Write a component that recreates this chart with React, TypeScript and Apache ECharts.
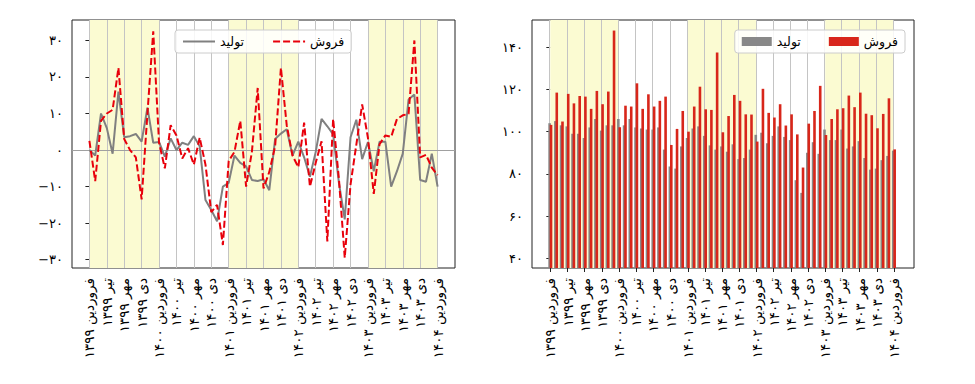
import React, { useEffect, useRef } from 'react';
import * as echarts from 'echarts';

// Tick labels (one every 3 months, Farvardin 1399 .. Farvardin 1404)
const tickLabels = [
  'فروردین ۱۳۹۹', 'تیر ۱۳۹۹', 'مهر ۱۳۹۹', 'دی ۱۳۹۹',
  'فروردین ۱۴۰۰', 'تیر ۱۴۰۰', 'مهر ۱۴۰۰', 'دی ۱۴۰۰',
  'فروردین ۱۴۰۱', 'تیر ۱۴۰۱', 'مهر ۱۴۰۱', 'دی ۱۴۰۱',
  'فروردین ۱۴۰۲', 'تیر ۱۴۰۲', 'مهر ۱۴۰۲', 'دی ۱۴۰۲',
  'فروردین ۱۴۰۳', 'تیر ۱۴۰۳', 'مهر ۱۴۰۳', 'دی ۱۴۰۳',
  'فروردین ۱۴۰۴',
];
const monthsPerTick = 3;
const seriesNames = ['تولید', 'فروش'];
// shaded years (start month index, length in months)
const shadedStarts = [0, 24, 48];
const shadedLength = 12;
const growthTicks = [-30, -20, -10, 0, 10, 20, 30];
const indexTicks = [40, 60, 80, 100, 120, 140];

// Left panel: year-over-year growth (%)
const productionGrowth = [
  0, -1.5, 10, 6, -1, 16, 3.5, 3.8, 4.4, 2.3, 11.6, 2,
  2.2, -1.8, 3.2, 0, 2, 1.4, 3.8, 1, -13.7, -16.4, -19.5, -10,
  -9, -1.5, -3.5, -4.5, -8.2, -8.5, -8, -11, 3, 4.5, 5.7, -1.5,
  2.3, -2, -7.3, -0.5, 8.5, 6.5, 4.3, -9, -19, 3.5, 8.3, -2.5,
  2.2, -5.8, 2.3, 2.3, -10, -5.8, -1, 13.8, 15.2, -8.2, -8.7, -1, -10,
];
const salesGrowth = [
  2.5, -8.5, 8, 10, 11, 22.5, 3, 0, -2, -13.5, 10, 32.5,
  2, -5, 6.8, 4, -2.3, 0.5, -4, 3.4, -4, -17, -15, -26,
  -3, -0.5, 8, -10, -0.5, 17, -10.5, -6, 1, 22.5, 6.8, -1.5,
  -4.7, 7.5, -10, -3.5, 2.4, -25, 8.5, -8, -29.5, -9.4, 1.5, 12.5,
  3.3, -12, 1.6, 4, 3.6, 8.5, 9.5, 9.9, 30, -2, -1.3, -4.8, -6.9,
];

// Right panel: index levels
const productionIndex = [
  104, 105, 103, 102.5, 99, 99, 97, 102, 106, 100.5, 103, 103,
  106, 103, 106, 102, 101.5, 101, 101, 102, 91.5, 83.5, 82.5, 93,
  97, 101.5, 102.5, 98, 93.5, 91.5, 93, 90.5, 94, 87, 87.5, 91.5,
  98.5, 99.5, 94.5, 98, 102.5, 97.5, 96, 77, 71, 90, 95, 89.5,
  101, 96, 96, 101, 92, 93, 95.5, 87.5, 82, 82.5, 86.5, 88.5, 91,
];
const salesIndex = [
  103.2, 118.5, 104.8, 117.9, 113.4, 116.9, 116.6, 110.8, 119.3, 113.0, 119.0, 147.9,
  102.1, 112.3, 111.9, 122.9, 110.8, 117.7, 111.9, 114.6, 116.6, 93.7, 101.3, 109.8,
  100.0, 111.9, 121.3, 110.6, 110.3, 137.5, 99.7, 107.4, 117.4, 114.6, 108.2, 108.1,
  95.3, 120.3, 108.9, 106.7, 113.0, 102.9, 108.2, 98.7, 83.0, 103.8, 109.8, 121.7,
  98.4, 106.0, 110.6, 111.1, 117.1, 111.6, 118.5, 108.5, 107.8, 101.6, 108.4, 115.8, 91.6,
];

const FONT = 'DejaVu Sans';
const faDigits = '۰۱۲۳۴۵۶۷۸۹';
const toFa = (n: number) => {
  const s = String(Math.abs(n)).replace(/\d/g, (d) => faDigits[+d]);
  return n < 0 ? '−' + s : s;
};

const tickValues = tickLabels.map((_, k) => k * monthsPerTick);
const pairs = (arr: number[]) => arr.map((v, i) => [i, v]);

const gridLines = (withZero: boolean) => ({
  silent: true,
  symbol: ['none', 'none'],
  z: 1.5,
  label: { show: false },
  lineStyle: { color: '#c4c4c4', width: 1, type: 'solid' },
  data: [
    ...tickValues.map((v) => ({ xAxis: v })),
    ...(withZero ? [{ yAxis: 0, lineStyle: { color: '#a0a0a0', width: 1, type: 'solid' } }] : []),
  ],
});
const shading = () => ({
  silent: true,
  z: 1,
  itemStyle: { color: '#fbfbd2', opacity: 1 },
  data: shadedStarts.map((s) => [{ xAxis: s }, { xAxis: s + shadedLength }]),
});

const xAxisBase = (gridIndex: number, min: number, max: number) => ({
  type: 'value',
  gridIndex,
  min,
  max,
  axisLine: { show: false },
  splitLine: { show: false },
  axisTick: { show: true, length: 4, customValues: tickValues, lineStyle: { color: '#222' } },
  axisLabel: {
    customValues: tickValues,
    rotate: 90,
    margin: 10,
    fontSize: 13.5,
    fontFamily: FONT,
    color: '#000',
    formatter: (v: number) => tickLabels[Math.round(v / monthsPerTick)] ?? '',
  },
});
const yAxisBase = (gridIndex: number, min: number, max: number, ticks: number[]) => ({
  type: 'value',
  gridIndex,
  min,
  max,
  axisLine: { show: false },
  splitLine: { show: false },
  axisTick: { show: true, length: 4, customValues: ticks, lineStyle: { color: '#222' } },
  axisLabel: {
    customValues: ticks,
    margin: 9,
    fontSize: 13,
    fontFamily: FONT,
    color: '#000',
    formatter: (v: number) => toFa(v),
  },
});

const legendBase = {
  top: 30,
  orient: 'horizontal',
  padding: [5, 7],
  itemGap: 28,
  borderColor: '#cccccc',
  borderWidth: 1,
  borderRadius: 3,
  backgroundColor: 'rgba(255,255,255,0.85)',
  textStyle: { fontSize: 12.5, fontFamily: FONT, color: '#000' },
  selectedMode: false,
};

export default function App() {
  const ref = useRef<HTMLDivElement>(null);
  useEffect(() => {
    if (!ref.current) return;
    const chart = echarts.init(ref.current, undefined, { renderer: 'svg' });
    const barPrefix = 'bar:';
    chart.setOption({
      animation: false,
      backgroundColor: '#fff',
      grid: [
        { left: 72, top: 20, width: 383, height: 248, show: true, borderColor: '#222', borderWidth: 1, backgroundColor: 'transparent' },
        { left: 532, top: 20, width: 382, height: 248, show: true, borderColor: '#222', borderWidth: 1, backgroundColor: 'transparent' },
      ],
      xAxis: [xAxisBase(0, -3, 63), xAxisBase(1, -3.2, 63.5)],
      yAxis: [yAxisBase(0, -32.3, 35.6, growthTicks), yAxisBase(1, 35.4, 152.9, indexTicks)],
      legend: [
        {
          ...legendBase,
          left: 175,
          itemWidth: 32,
          itemHeight: 14,
          itemStyle: { opacity: 0 },
          data: seriesNames,
        },
        {
          ...legendBase,
          right: 70,
          itemWidth: 30,
          itemHeight: 9,
          icon: 'rect',
          data: seriesNames.map((n) => barPrefix + n),
          formatter: (n: string) => n.replace(barPrefix, ''),
        },
      ],
      series: [
        {
          type: 'line',
          name: seriesNames[0],
          xAxisIndex: 0,
          yAxisIndex: 0,
          data: pairs(productionGrowth),
          symbol: 'none',
          z: 2,
          color: '#808080',
          lineStyle: { color: '#808080', width: 2 },
          markArea: shading(),
          markLine: gridLines(true),
        },
        {
          type: 'line',
          name: seriesNames[1],
          xAxisIndex: 0,
          yAxisIndex: 0,
          data: pairs(salesGrowth),
          symbol: 'none',
          z: 3,
          color: '#e8000b',
          lineStyle: { color: '#e8000b', width: 2, type: [7, 3] },
        },
        {
          type: 'bar',
          name: barPrefix + seriesNames[0],
          xAxisIndex: 1,
          yAxisIndex: 1,
          data: pairs(productionIndex),
          barWidth: 2.6,
          barGap: '-45%',
          z: 2,
          color: '#888888',
          itemStyle: { color: '#888888' },
          markArea: shading(),
          markLine: gridLines(false),
        },
        {
          type: 'bar',
          name: barPrefix + seriesNames[1],
          xAxisIndex: 1,
          yAxisIndex: 1,
          data: pairs(salesIndex),
          barWidth: 2.6,
          barGap: '-45%',
          z: 2,
          color: '#d8261a',
          itemStyle: { color: '#d8261a' },
        },
      ],
    });
    return () => chart.dispose();
  }, []);
  return (
    <div
      ref={ref}
      style={{ position: 'absolute', left: 0, top: 0, width: 975, height: 384, background: '#fff' }}
    />
  );
}
